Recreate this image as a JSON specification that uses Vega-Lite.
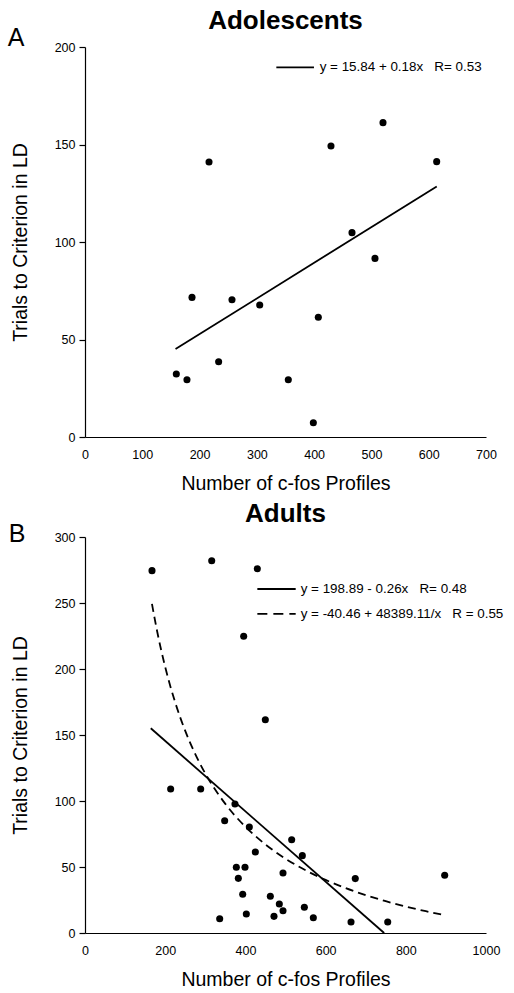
{
  "$schema": "https://vega.github.io/schema/vega-lite/v6.json",
  "background": "white",
  "padding": {"left": 7, "top": 8, "right": 3, "bottom": 2},
  "spacing": 7,
  "config": {
    "font": "Liberation Sans",
    "view": {"stroke": null},
    "axis": {"domainColor": "black", "tickColor": "black", "labelColor": "black", "titleColor": "black", "grid": false, "labelFont": "Liberation Sans", "labelFontSize": 12.5, "titleFont": "Liberation Sans", "titleFontSize": 19.5, "titleFontWeight": "normal", "domainWidth": 1.2, "tickWidth": 1.2, "format": "d", "labelFlush": false},
    "axisX": {"ticks": false, "labelPadding": 11, "titlePadding": 14, "labelAngle": 0},
    "axisY": {"tickSize": 6, "labelPadding": 4, "titlePadding": 24},
    "title": {"fontSize": 26, "fontWeight": "bold", "color": "black", "font": "Liberation Sans"}
  },
  "datasets": {
    "adol": [
      {"x": 216.5, "y": 141.0}, {"x": 429.4, "y": 149.2}, {"x": 520.2, "y": 161.2}, {"x": 613.9, "y": 141.2}, {"x": 466.1, "y": 104.8},
      {"x": 186.8, "y": 71.6}, {"x": 256.6, "y": 70.4}, {"x": 305.0, "y": 67.7}, {"x": 407.3, "y": 61.4}, {"x": 159.4, "y": 32.3},
      {"x": 178.0, "y": 29.4}, {"x": 233.3, "y": 38.6}, {"x": 354.9, "y": 29.4}, {"x": 398.6, "y": 7.3}, {"x": 506.2, "y": 91.6}
    ],
    "adolFit": [{"x": 158, "y": 45.1}, {"x": 614, "y": 128.5}],
    "adult": [
      {"x": 167.1, "y": 274.5}, {"x": 316.0, "y": 282.0}, {"x": 429.7, "y": 276.0}, {"x": 395.7, "y": 224.8}, {"x": 449.7, "y": 161.6},
      {"x": 213.6, "y": 109.1}, {"x": 288.5, "y": 109.1}, {"x": 374.0, "y": 97.7}, {"x": 348.3, "y": 85.1}, {"x": 409.8, "y": 80.3},
      {"x": 424.8, "y": 61.4}, {"x": 515.4, "y": 70.7}, {"x": 542.0, "y": 58.6}, {"x": 377.4, "y": 49.8}, {"x": 399.0, "y": 49.8},
      {"x": 382.4, "y": 41.4}, {"x": 493.8, "y": 45.5}, {"x": 393.3, "y": 29.3}, {"x": 462.2, "y": 27.8}, {"x": 484.6, "y": 22.0},
      {"x": 493.8, "y": 16.9}, {"x": 402.3, "y": 14.4}, {"x": 471.3, "y": 12.6}, {"x": 547.0, "y": 19.5}, {"x": 569.4, "y": 11.6},
      {"x": 335.9, "y": 10.8}, {"x": 674.0, "y": 41.2}, {"x": 897.0, "y": 43.7}, {"x": 663.4, "y": 8.3}, {"x": 754.9, "y": 8.3}
    ],
    "adultLin": [{"x": 164, "y": 155.1}, {"x": 746, "y": 0}],
    "adultCurve": [
      {"x": 167, "y": 249.3}, {"x": 180, "y": 228.4}, {"x": 200, "y": 201.5}, {"x": 225, "y": 174.6}, {"x": 250, "y": 153.1},
      {"x": 275, "y": 135.5}, {"x": 300, "y": 120.8}, {"x": 350, "y": 97.8}, {"x": 400, "y": 80.5}, {"x": 450, "y": 67.1},
      {"x": 500, "y": 56.3}, {"x": 550, "y": 47.5}, {"x": 600, "y": 40.2}, {"x": 650, "y": 34.0}, {"x": 700, "y": 28.7},
      {"x": 750, "y": 24.1}, {"x": 800, "y": 20.0}, {"x": 850, "y": 16.5}, {"x": 900, "y": 13.3}
    ]
  },
  "vconcat": [
    {
      "width": 401, "height": 390,
      "title": {"text": "Adolescents", "offset": -8},
      "layer": [
        {"data": {"name": "adol"}, "mark": {"type": "circle", "color": "black", "size": 50, "opacity": 1},
         "encoding": {
           "x": {"field": "x", "type": "quantitative", "title": "Number of c-fos Profiles", "scale": {"domain": [0, 700], "nice": false, "zero": false}, "axis": {"values": [0, 100, 200, 300, 400, 500, 600, 700]}},
           "y": {"field": "y", "type": "quantitative", "title": "Trials to Criterion in LD", "scale": {"domain": [0, 200], "nice": false}, "axis": {"values": [0, 50, 100, 150, 200]}}}},
        {"data": {"name": "adolFit"}, "mark": {"type": "line", "color": "black", "strokeWidth": 1.8},
         "encoding": {"x": {"field": "x", "type": "quantitative", "title": "Number of c-fos Profiles"}, "y": {"field": "y", "type": "quantitative", "title": "Trials to Criterion in LD"}}},
        {"data": {"values": [{}]}, "mark": {"type": "rule", "color": "black", "strokeWidth": 1.8},
         "encoding": {"x": {"datum": 334, "type": "quantitative", "title": "Number of c-fos Profiles"}, "x2": {"datum": 399.7}, "y": {"datum": 189.6, "type": "quantitative", "title": "Trials to Criterion in LD"}}},
        {"data": {"values": [{"t": "y = 15.84 + 0.18x \u00a0 R= 0.53"}]}, "mark": {"type": "text", "align": "left", "baseline": "middle", "fontSize": 13.4, "color": "black"},
         "encoding": {"x": {"datum": 409.7, "type": "quantitative", "title": "Number of c-fos Profiles"}, "y": {"datum": 189.6, "type": "quantitative", "title": "Trials to Criterion in LD"}, "text": {"field": "t"}}},
        {"data": {"values": [{"t": "A"}]}, "mark": {"type": "text", "align": "center", "baseline": "middle", "fontSize": 25, "color": "black"},
         "encoding": {"x": {"datum": -120.4, "type": "quantitative", "title": "Number of c-fos Profiles"}, "y": {"datum": 204.6, "type": "quantitative", "title": "Trials to Criterion in LD"}, "text": {"field": "t"}}}
      ]
    },
    {
      "width": 401, "height": 396,
      "title": {"text": "Adults", "offset": -4.5},
      "layer": [
        {"data": {"name": "adult"}, "mark": {"type": "circle", "color": "black", "size": 50, "opacity": 1},
         "encoding": {
           "x": {"field": "x", "type": "quantitative", "title": "Number of c-fos Profiles", "scale": {"domain": [0, 1000], "nice": false, "zero": false}, "axis": {"values": [0, 200, 400, 600, 800, 1000]}},
           "y": {"field": "y", "type": "quantitative", "title": "Trials to Criterion in LD", "scale": {"domain": [0, 300], "nice": false}, "axis": {"values": [0, 50, 100, 150, 200, 250, 300]}}}},
        {"data": {"name": "adultLin"}, "mark": {"type": "line", "color": "black", "strokeWidth": 1.8},
         "encoding": {"x": {"field": "x", "type": "quantitative", "title": "Number of c-fos Profiles"}, "y": {"field": "y", "type": "quantitative", "title": "Trials to Criterion in LD"}}},
        {"data": {"name": "adultCurve"}, "mark": {"type": "line", "color": "black", "strokeWidth": 1.8, "strokeDash": [8, 5], "interpolate": "monotone"},
         "encoding": {"x": {"field": "x", "type": "quantitative", "title": "Number of c-fos Profiles"}, "y": {"field": "y", "type": "quantitative", "title": "Trials to Criterion in LD"}}},
        {"data": {"values": [{}]}, "mark": {"type": "rule", "color": "black", "strokeWidth": 1.8},
         "encoding": {"x": {"datum": 429.8, "type": "quantitative", "title": "Number of c-fos Profiles"}, "x2": {"datum": 525.4}, "y": {"datum": 260.6, "type": "quantitative", "title": "Trials to Criterion in LD"}}},
        {"data": {"values": [{}]}, "mark": {"type": "rule", "color": "black", "strokeWidth": 1.8, "strokeDash": [10, 6]},
         "encoding": {"x": {"datum": 429.8, "type": "quantitative", "title": "Number of c-fos Profiles"}, "x2": {"datum": 525.4}, "y": {"datum": 241.7, "type": "quantitative", "title": "Trials to Criterion in LD"}}},
        {"data": {"values": [{"t": "y = 198.89 - 0.26x \u00a0 R= 0.48", "k": 260.6}, {"t": "y = -40.46 + 48389.11/x \u00a0 R = 0.55", "k": 241.7}]}, "mark": {"type": "text", "align": "left", "baseline": "middle", "fontSize": 13.4, "color": "black"},
         "encoding": {"x": {"datum": 537.9, "type": "quantitative", "title": "Number of c-fos Profiles"}, "y": {"field": "k", "type": "quantitative", "title": "Trials to Criterion in LD"}, "text": {"field": "t"}}},
        {"data": {"values": [{"t": "B"}]}, "mark": {"type": "text", "align": "center", "baseline": "middle", "fontSize": 25, "color": "black"},
         "encoding": {"x": {"datum": -169.6, "type": "quantitative", "title": "Number of c-fos Profiles"}, "y": {"datum": 301.9, "type": "quantitative", "title": "Trials to Criterion in LD"}, "text": {"field": "t"}}}
      ]
    }
  ]
}
